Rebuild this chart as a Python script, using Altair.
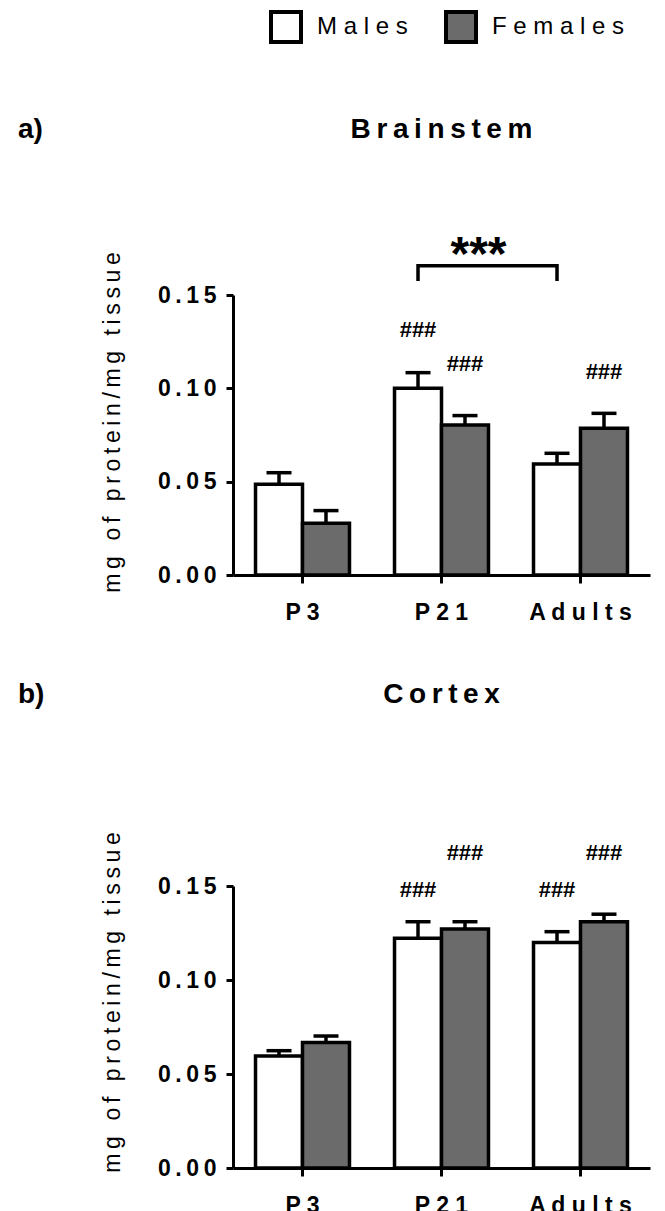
import altair as alt
import pandas as pd

# ---------------- data ----------------
ages = ["P3", "P21", "Adults"]
sexes = ["Males", "Females"]
colors = ["#ffffff", "#6b6b6b"]

brain_males = [0.0486, 0.1000, 0.0595]
brain_males_err = [0.0062, 0.0084, 0.0057]
brain_females = [0.0277, 0.0804, 0.0786]
brain_females_err = [0.0068, 0.0050, 0.0080]

cortex_males = [0.0596, 0.1222, 0.1200]
cortex_males_err = [0.0028, 0.0088, 0.0057]
cortex_females = [0.0667, 0.1271, 0.1310]
cortex_females_err = [0.0035, 0.0039, 0.0040]

brain_hash_age = ["P21", "P21", "Adults"]
brain_hash_sex = ["Males", "Females", "Females"]
brain_hash_y = [0.131, 0.113, 0.109]

cortex_hash_age = ["P21", "P21", "Adults", "Adults"]
cortex_hash_sex = ["Males", "Females", "Males", "Females"]
cortex_hash_y = [0.148, 0.1677, 0.148, 0.1677]

bracket_age = ["P21", "P21", "Adults", "Adults"]
bracket_sex = ["Males", "Males", "Males", "Males"]
bracket_y = [0.1575, 0.1657, 0.1657, 0.1575]
stars_age = ["P21"]
stars_y = [0.1634]

FONT = "Liberation Sans"
THIN = "\u2009"
W = 417
SPACE_EXPR = "join(split(datum.label, ''), ' ')"
THIN_EXPR = "join(split(datum.label, ''), '" + THIN + "')"

y_title = THIN.join("mg of protein/mg tissue")

legend = alt.Legend(
    orient="none", legendX=36, legendY=-285, direction="horizontal",
    title=None, symbolType="square", symbolSize=900,
    symbolStrokeColor="black", symbolStrokeWidth=4,
    labelFontSize=24, labelFont=FONT, labelColor="black",
    labelExpr=SPACE_EXPR, columnPadding=30, labelOffset=14,
)

yscale = alt.Scale(domain=[0, 0.15], nice=False, zero=True)
xscale = alt.Scale(domain=ages, paddingInner=0.324, paddingOuter=0.162)
xoscale = alt.Scale(domain=sexes, paddingInner=0, paddingOuter=0)


def X(axis=None):
    if axis is None:
        return alt.X("age:N", sort=ages, scale=xscale)
    return alt.X("age:N", sort=ages, scale=xscale, axis=axis)


def XO():
    return alt.XOffset("sex:N", sort=sexes, scale=xoscale)


def Y(field):
    return alt.Y(field, scale=yscale)


def panel(title, letter, m, me, f, fe, h_age, h_sex, h_y, height,
          letter_y, ytitle_pos, with_bracket=False):
    df = pd.DataFrame({
        "age": ages + ages,
        "sex": ["Males"] * 3 + ["Females"] * 3,
        "value": m + f,
        "err": me + fe,
    })
    df["top"] = df["value"] + df["err"]

    xaxis = alt.Axis(title=None, labelExpr=SPACE_EXPR, labelAngle=0,
                     tickSize=8, labelPadding=18, labelFontSize=23,
                     labelFontWeight="bold")
    yaxis = alt.Axis(values=[0, 0.05, 0.1, 0.15], format=".2f",
                     labelExpr=THIN_EXPR, title=y_title, tickSize=7,
                     labelPadding=10, labelFontSize=23, labelFontWeight="bold",
                     titleFontSize=23, titleFontWeight="normal", titlePadding=33,
                     titleY=ytitle_pos)

    base = alt.Chart(df)
    bars = base.mark_bar(stroke="black", strokeWidth=3.5).encode(
        x=X(xaxis), xOffset=XO(),
        y=alt.Y("value:Q", scale=yscale, axis=yaxis),
        fill=alt.Fill("sex:N", scale=alt.Scale(domain=sexes, range=colors),
                      legend=legend),
    )
    rules = base.mark_rule(color="black", strokeWidth=3.5).encode(
        x=X(), xOffset=XO(), y=Y("value:Q"), y2="top:Q",
    )
    caps = base.mark_tick(color="black", thickness=3.5, size=25, opacity=1).encode(
        x=X(), xOffset=XO(), y=Y("top:Q"),
    )
    hdf = pd.DataFrame({"age": h_age, "sex": h_sex, "y": h_y,
                        "t": ["###"] * len(h_age)})
    hashes = alt.Chart(hdf).mark_text(
        font=FONT, fontSize=22, fontWeight="bold", baseline="middle",
        color="black").encode(
        x=X(), xOffset=XO(), y=Y("y:Q"), text="t:N",
    )
    ldf = pd.DataFrame({"t": [letter]})
    letter_mark = alt.Chart(ldf).mark_text(
        font=FONT, fontSize=28, fontWeight="bold", align="left",
        baseline="middle", color="black").encode(
        x=alt.value(-215), y=alt.value(letter_y), text="t:N",
    )
    layers = [bars, rules, caps, hashes, letter_mark]
    if with_bracket:
        bdf = pd.DataFrame({"age": bracket_age, "sex": bracket_sex,
                            "y": bracket_y, "o": list(range(len(bracket_y)))})
        br = alt.Chart(bdf).mark_line(color="black", strokeWidth=3.5,
                                      strokeJoin="miter").encode(
            x=X(), xOffset=XO(), y=Y("y:Q"), order="o:Q",
        )
        sdf = pd.DataFrame({"age": stars_age, "y": stars_y, "t": ["***"]})
        st = alt.Chart(sdf).mark_text(
            font=FONT, fontSize=48, fontWeight="bold", baseline="alphabetic",
            dx=37, color="black").encode(
            x=X(), y=Y("y:Q"), text="t:N",
        )
        layers += [br, st]
    return alt.layer(*layers).properties(
        width=W, height=height,
        title=alt.TitleParams(text=THIN.join(title), font=FONT, fontSize=28,
                              fontWeight="bold", color="black",
                              anchor="middle", frame="group",
                              baseline="middle", offset=-42),
    )


pa = panel("Brainstem", "a)", brain_males, brain_males_err, brain_females,
           brain_females_err, brain_hash_age, brain_hash_sex, brain_hash_y,
           280, -165, 127, with_bracket=True)
pb = panel("Cortex", "b)", cortex_males, cortex_males_err, cortex_females,
           cortex_females_err, cortex_hash_age, cortex_hash_sex, cortex_hash_y,
           282, -191, 116)

chart = alt.vconcat(pa, pb, spacing=57).resolve_scale(
    fill="shared").resolve_legend(fill="shared").properties(
    padding={"left": 18, "top": 10, "right": 14, "bottom": 0},
    background="white",
).configure_view(stroke=None).configure_axis(
    domainColor="black", domainWidth=3, tickColor="black", tickWidth=3,
    labelColor="black", titleColor="black", grid=False,
    labelFont=FONT, titleFont=FONT,
)

chart.save("out.html", embed_options={"renderer": "svg", "actions": False})
